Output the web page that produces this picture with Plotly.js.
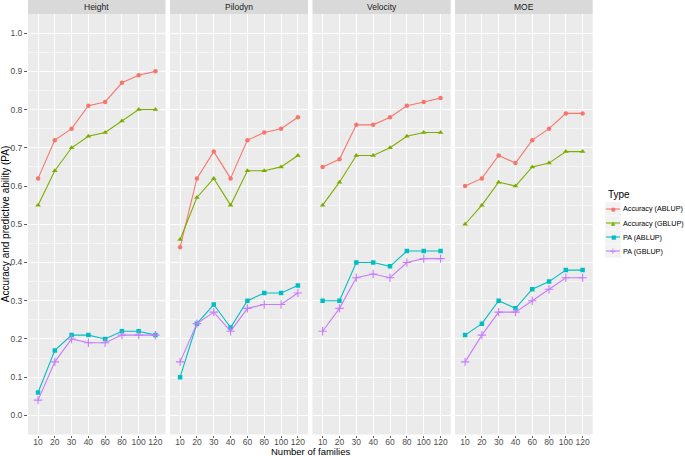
<!DOCTYPE html>
<html><head><meta charset="utf-8">
<script src="https://cdn.plot.ly/plotly-3.0.1.min.js"></script>
<style>html,body{margin:0;padding:0;background:#fff}#chart{width:685px;height:456px}</style>
</head><body><div id="chart"></div>
<script>
const families = ["10","20","30","40","60","80","100","120"];
const traits = ["Height","Pilodyn","Velocity","MOE"];
const seriesNames = ["Accuracy (ABLUP)","Accuracy (GBLUP)","PA (ABLUP)","PA (GBLUP)"];

const heightAccA = [0.62,0.72,0.75,0.81,0.82,0.87,0.89,0.90];
const heightAccG = [0.55,0.64,0.70,0.73,0.74,0.77,0.80,0.80];
const heightPAA  = [0.06,0.17,0.21,0.21,0.20,0.22,0.22,0.21];
const heightPAG  = [0.04,0.14,0.20,0.19,0.19,0.21,0.21,0.21];

const pilodynAccA = [0.44,0.62,0.69,0.62,0.72,0.74,0.75,0.78];
const pilodynAccG = [0.46,0.57,0.62,0.55,0.64,0.64,0.65,0.68];
const pilodynPAA  = [0.10,0.24,0.29,0.23,0.30,0.32,0.32,0.34];
const pilodynPAG  = [0.14,0.24,0.27,0.22,0.28,0.29,0.29,0.32];

const velocityAccA = [0.65,0.67,0.76,0.76,0.78,0.81,0.82,0.83];
const velocityAccG = [0.55,0.61,0.68,0.68,0.70,0.73,0.74,0.74];
const velocityPAA  = [0.30,0.30,0.40,0.40,0.39,0.43,0.43,0.43];
const velocityPAG  = [0.22,0.28,0.36,0.37,0.36,0.40,0.41,0.41];

const moeAccA = [0.60,0.62,0.68,0.66,0.72,0.75,0.79,0.79];
const moeAccG = [0.50,0.55,0.61,0.60,0.65,0.66,0.69,0.69];
const moePAA  = [0.21,0.24,0.30,0.28,0.33,0.35,0.38,0.38];
const moePAG  = [0.14,0.21,0.27,0.27,0.30,0.33,0.36,0.36];

const yTickVals = [0,0.1,0.2,0.3,0.4,0.5,0.6,0.7,0.8,0.9,1.0];

const panelData = [
  [heightAccA, heightAccG, heightPAA, heightPAG],
  [pilodynAccA, pilodynAccG, pilodynPAA, pilodynPAG],
  [velocityAccA, velocityAccG, velocityPAA, velocityPAG],
  [moeAccA, moeAccG, moePAA, moePAG]
];

const colors = ["#F8766D","#7CAE00","#00BFC4","#C77CFF"];
const symbols = ["circle","triangle-up","square","cross-thin"];
const glyphs = ["\u25CF","\u25B2","\u25A0","+"];
const W = 685, H = 456;
const px = [[28,165.5],[170,308],[312.5,450.7],[455,592.7]];
const yTop = 14, yBot = 434.5;
const FONT = "Liberation Sans, Arial, Helvetica, sans-serif";

const traces = [];
panelData.forEach((set, p) => {
  set.forEach((vals, s) => {
    traces.push({
      type: "scatter", mode: "lines+markers",
      x: families, y: vals, name: seriesNames[s],
      showlegend: false,
      xaxis: p === 0 ? "x" : "x" + (p + 1), yaxis: "y",
      line: {color: colors[s], width: 1.1},
      marker: {color: colors[s], symbol: symbols[s], size: s === 3 ? 6 : (s === 1 ? 5 : 4.5),
               line: {color: colors[s], width: s === 3 ? 1.1 : 0}},
      hoverinfo: "x+y+name"
    });
  });
});

const layout = {
  width: W, height: H,
  margin: {l: 0, r: 0, t: 0, b: 0},
  paper_bgcolor: "#ffffff", plot_bgcolor: "#EBEBEB",
  font: {family: FONT, color: "#4D4D4D", size: 8.5},
  showlegend: false,
  yaxis: {
    domain: [1 - yBot / H, 1 - yTop / H], range: [-0.05, 1.05],
    tickvals: yTickVals, tickformat: ".1f",
    ticks: "outside", ticklen: 3, tickcolor: "#333333", tickwidth: 0.8,
    showgrid: true, gridcolor: "#ffffff", gridwidth: 1,
    minor: {tickvals: [-0.05,0.05,0.15,0.25,0.35,0.45,0.55,0.65,0.75,0.85,0.95,1.05], ticks: "", showgrid: true, gridcolor: "#ffffff", gridwidth: 0.5},
    zeroline: false, showline: false, anchor: "x",
    tickfont: {size: 8.5, color: "#4D4D4D"}, fixedrange: true
  },
  shapes: [], annotations: []
};

px.forEach((d, p) => {
  const key = p === 0 ? "xaxis" : "xaxis" + (p + 1);
  layout[key] = {
    type: "category", domain: [d[0] / W, d[1] / W], range: [-0.6, 7.6],
    categoryorder: "array", categoryarray: families, tickangle: 0,
    ticks: "outside", ticklen: 2.5, tickcolor: "#333333", tickwidth: 0.8,
    ticklabelstandoff: -3,
    showgrid: true, gridcolor: "#ffffff", gridwidth: 1,
    zeroline: false, showline: false, anchor: "y", automargin: false,
    tickfont: {size: 8.5, color: "#4D4D4D"}, fixedrange: true
  };
  layout.shapes.push({
    type: "rect", xref: "paper", yref: "paper",
    x0: d[0] / W, x1: d[1] / W, y0: 1 - yTop / H, y1: 1,
    fillcolor: "#D9D9D9", line: {width: 0}, layer: "below"
  });
  layout.annotations.push({
    text: traits[p], xref: "paper", yref: "paper",
    x: (d[0] + d[1]) / 2 / W, y: 1 - 7 / H, xanchor: "center", yanchor: "middle",
    showarrow: false, font: {size: 8.5, color: "#1A1A1A"}
  });
});

layout.annotations.push({
  text: "Number of families", xref: "paper", yref: "paper",
  x: (28 + 592.7) / 2 / W, y: -1.5 / H, xanchor: "center", yanchor: "bottom",
  showarrow: false, borderpad: 0, font: {size: 9.5, color: "#000000"}
});
layout.annotations.push({
  text: "Accuracy and predictive ability (PA)", xref: "paper", yref: "paper",
  x: 5 / W, y: 1 - (yTop + yBot) / 2 / H, xanchor: "center", yanchor: "middle",
  textangle: -90, showarrow: false, font: {size: 10, color: "#000000"}
});

// custom legend (ggplot style)
layout.annotations.push({
  text: "Type", xref: "paper", yref: "paper",
  x: 606 / W, y: 1 - 195 / H, xanchor: "left", yanchor: "middle",
  showarrow: false, font: {size: 10, color: "#000000"}
});
const legY0 = 209, legStep = 14;
seriesNames.forEach((nm, s) => {
  const cy = legY0 + s * legStep;
  layout.shapes.push({
    type: "rect", xref: "paper", yref: "paper",
    x0: 605 / W, x1: 621 / W, y0: 1 - (cy + 7) / H, y1: 1 - (cy - 7) / H,
    fillcolor: "#F2F2F2", line: {color: "#ffffff", width: 0.5}
  });
  layout.shapes.push({
    type: "line", xref: "paper", yref: "paper",
    x0: 606 / W, x1: 620 / W, y0: 1 - cy / H, y1: 1 - cy / H,
    line: {color: colors[s], width: 1.1}
  });
  layout.annotations.push({
    text: glyphs[s], xref: "paper", yref: "paper",
    x: 613 / W, y: 1 - cy / H, xanchor: "center", yanchor: "middle",
    showarrow: false, font: {size: s === 3 ? 9 : 5.5, color: colors[s], family: "DejaVu Sans"}
  });
  layout.annotations.push({
    text: nm, xref: "paper", yref: "paper",
    x: 622 / W, y: 1 - cy / H, xanchor: "left", yanchor: "middle",
    showarrow: false, borderpad: 0, font: {size: 7.2, color: "#000000"}
  });
});

Plotly.newPlot("chart", traces, layout, {displayModeBar: false, staticPlot: true});
</script></body></html>
